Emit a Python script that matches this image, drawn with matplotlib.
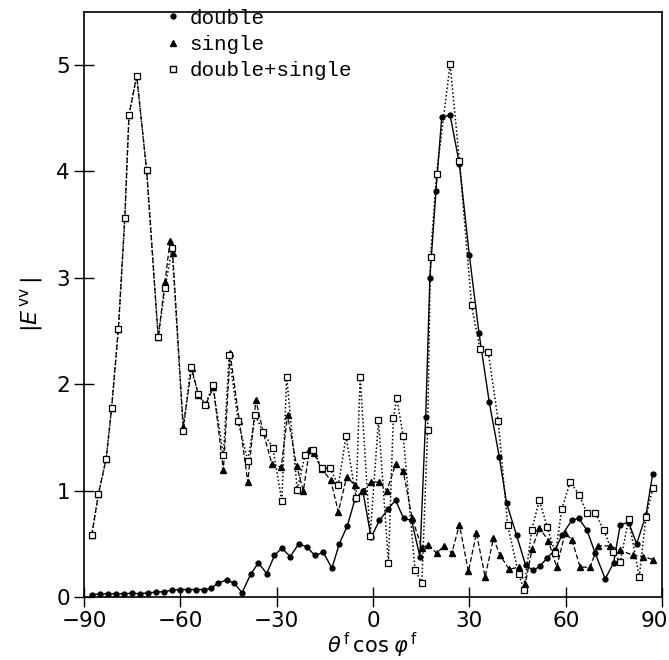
import numpy as np
import matplotlib
matplotlib.use('agg')
import matplotlib.pyplot as plt
from matplotlib.lines import Line2D
from matplotlib.transforms import ScaledTranslation

# double (filled circles)
double_x = [-87.5, -85, -82.5, -80, -77.5, -75, -72.5, -70, -67.5, -65,
            -62.5, -60, -57.5, -55, -52.5, -50.5, -48.3, -45.6, -43.2, -40.8,
            -38, -35.7, -33.1, -30.7, -28.4, -25.8, -23.1, -20.6, -18.1, -15.5,
            -12.8, -10.5, -8, -5.6, -3.2, -0.6, 2.0, 4.8, 7.0, 9.5,
            12.0, 14.6, 16.4, 17.7, 19.6, 21.4, 24.0, 26.9, 30.0, 33.0,
            36.2, 39.3, 41.6, 44.7, 47.5, 49.9, 52.0, 54.3, 56.7, 58.8,
            61.9, 64.0, 66.6, 69.2, 72.3, 74.9, 77.0, 79.6, 82.1, 85.0, 87.1]
double_y = [0.02, 0.03, 0.03, 0.03, 0.03, 0.035, 0.03, 0.04, 0.045, 0.05,
            0.065, 0.07, 0.07, 0.07, 0.07, 0.08, 0.13, 0.16, 0.13, 0.04,
            0.22, 0.32, 0.22, 0.39, 0.46, 0.38, 0.50, 0.47, 0.39, 0.42,
            0.27, 0.50, 0.67, 0.92, 1.0, 0.56, 0.72, 0.83, 0.91, 0.74,
            0.72, 0.38, 1.69, 3.0, 3.82, 4.51, 4.53, 4.07, 3.21, 2.48,
            1.83, 1.32, 0.88, 0.58, 0.30, 0.25, 0.29, 0.37, 0.44, 0.58,
            0.72, 0.74, 0.63, 0.41, 0.17, 0.32, 0.68, 0.70, 0.50, 0.77, 1.16]

# single (filled triangles)
single_x = [-87.6, -85.5, -83.1, -81.4, -79.3, -77.3, -76.0, -73.6, -70.5, -66.9,
            -64.8, -63.2, -62.4, -59.1, -56.5, -54.4, -52.1, -49.7, -46.6, -44.5,
            -41.6, -39.0, -36.5, -34.2, -31.5, -28.6, -26.6, -23.8, -21.7, -19.8,
            -18.4, -16.0, -13.2, -10.8, -8.2, -5.6, -3.0, -0.6, 2.0, 4.3,
            7.1, 9.4, 12.2, 15.2, 17.2, 19.8, 22.1, 24.5, 26.9, 29.7,
            32.2, 34.9, 37.5, 39.6, 42.4, 45.3, 47.4, 49.5, 51.8, 54.6,
            57.2, 59.8, 61.9, 64.5, 67.6, 70.0, 73.8, 76.9, 81.1, 84.2, 87.3]
single_y = [0.58, 0.97, 1.30, 1.78, 2.52, 3.56, 4.53, 4.90, 4.01, 2.44,
            2.96, 3.35, 3.23, 1.60, 2.15, 1.90, 1.81, 1.97, 1.19, 2.29,
            1.65, 1.08, 1.85, 1.55, 1.25, 1.22, 1.71, 1.23, 1.0, 1.38,
            1.35, 1.20, 1.10, 0.80, 1.13, 1.05, 1.0, 1.08, 1.08, 1.0,
            1.25, 1.18, 0.74, 0.46, 0.49, 0.41, 0.48, 0.41, 0.68, 0.24,
            0.60, 0.19, 0.55, 0.39, 0.26, 0.28, 0.12, 0.45, 0.65, 0.53,
            0.28, 0.60, 0.54, 0.28, 0.28, 0.48, 0.48, 0.44, 0.39, 0.38, 0.35]

# double+single (open squares)
ds_x = [-87.6, -85.5, -83.1, -81.4, -79.3, -77.3, -76.0, -73.6, -70.5, -66.9,
        -64.8, -62.6, -59.1, -56.8, -54.4, -52.3, -49.9, -46.6, -44.8, -42.0,
        -39.0, -36.7, -34.2, -31.2, -28.4, -26.9, -23.6, -21.2, -18.6, -16.0,
        -13.4, -10.8, -8.4, -5.3, -4.0, -0.9, 1.7, 4.8, 6.3, 7.4,
        9.4, 13.1, 15.2, 17.0, 17.9, 19.8, 24.0, 26.9, 30.7, 33.3,
        35.9, 39.0, 41.9, 45.3, 47.0, 49.4, 51.8, 54.2, 56.8, 58.8,
        61.4, 64.2, 66.6, 69.2, 71.8, 74.6, 77.0, 79.6, 82.9, 85.0, 87.1]
ds_y = [0.58, 0.97, 1.30, 1.78, 2.52, 3.56, 4.53, 4.90, 4.01, 2.44,
        2.90, 3.28, 1.56, 2.16, 1.91, 1.80, 1.99, 1.33, 2.27, 1.65,
        1.28, 1.71, 1.55, 1.40, 0.90, 2.07, 1.01, 1.33, 1.38, 1.21,
        1.21, 1.05, 1.51, 0.93, 2.07, 0.57, 1.66, 0.32, 1.68, 1.87,
        1.51, 0.25, 0.13, 1.57, 3.2, 3.98, 5.01, 4.10, 2.74, 2.33,
        2.30, 1.65, 0.68, 0.22, 0.07, 0.63, 0.91, 0.66, 0.41, 0.83,
        1.08, 0.96, 0.79, 0.79, 0.63, 0.42, 0.33, 0.73, 0.19, 0.75, 1.02]

xticks = [-90, -60, -30, 0, 30, 60, 90]
yticks = [0, 1, 2, 3, 4, 5]

fig = plt.figure(figsize=(6.69, 6.60), dpi=100)
ax = fig.add_axes([0.1256, 0.0955, 0.864, 0.8865])

ax.plot(double_x, double_y, color='black', lw=1.0, ls='-',
        marker='o', ms=3.5, mfc='black', mec='black')
ax.plot(single_x, single_y, color='black', lw=0.9, ls=(0, (4, 2)),
        marker='^', ms=4, mfc='black', mec='black')
ax.plot(ds_x, ds_y, color='black', lw=1.1, ls=(0, (1, 1.5)),
        marker='s', ms=4, mfc='white', mec='black', mew=0.9)

ax.set_xlim(-90, 90)
ax.set_ylim(0, 5.5)
ax.set_xticks(xticks)
ax.set_yticks(yticks)
ax.set_xticklabels([str(t).replace('-', '\u2212') for t in xticks])
ax.tick_params(direction='inout', length=14, width=1.0, labelsize=15.5, pad=3)
for s in ax.spines.values():
    s.set_linewidth(1.2)

# keep the last tick label inside the picture
last = ax.get_xticklabels()[-1]
last.set_transform(last.get_transform() + ScaledTranslation(-8 / 100, 0, fig.dpi_scale_trans))

ax.set_xlabel(r'$\theta^{\,\rm f}\,{\rm cos}\;\varphi^{\,\rm f}$', fontsize=15, labelpad=0)
ax.set_ylabel(r'$|E^{\,\rm vv}\,|$', fontsize=16, labelpad=8)

handles = [Line2D([], [], ls='none', marker='o', ms=3.5, mfc='black', mec='black'),
           Line2D([], [], ls='none', marker='^', ms=4, mfc='black', mec='black'),
           Line2D([], [], ls='none', marker='s', ms=4, mfc='white', mec='black')]
ax.legend(handles, ['double', 'single', 'double+single'], loc='upper left',
          bbox_to_anchor=(0.128, 1.02), frameon=False, borderaxespad=0,
          handlelength=0.6, handletextpad=0.5, labelspacing=0.35,
          prop={'family': 'Liberation Mono', 'size': 15})

plt.savefig('out.png', dpi=100)
